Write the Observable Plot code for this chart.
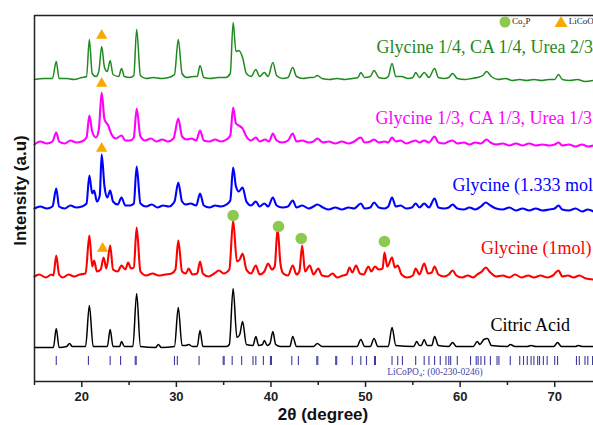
<!DOCTYPE html>
<html>
<head>
<meta charset="utf-8">
<script src="https://cdn.jsdelivr.net/npm/d3@7"></script>
<script src="https://cdn.jsdelivr.net/npm/@observablehq/plot@0.6"></script>
<style>
  html, body { margin: 0; padding: 0; background: #fff; overflow: hidden; }
  #wrap { position: relative; width: 593px; height: 425px; overflow: hidden; }
  #legend { position: absolute; left: 498px; top: 15px; font-family: "Liberation Serif", serif; font-size: 9px; color: #222; white-space: nowrap; }
  #legend span { display: inline-block; vertical-align: middle; }
</style>
</head>
<body>
<div id="wrap">
  <div id="chart"></div>
  <div id="legend">
    <svg width="14" height="14" style="vertical-align:middle"><circle cx="7" cy="7" r="5.5" fill="#8dc94e"></circle></svg><span>Co<sub style="font-size:6px">2</sub>P</span>
    <svg width="16" height="14" style="vertical-align:middle;margin-left:20px"><polygon points="8,1 14.5,12 1.5,12" fill="#f7a900"></polygon></svg><span>LiCoO<sub style="font-size:6px">2</sub></span>
  </div>
</div>
<script>
// ---- data (2θ in degrees, stacked intensity in a.u.) ----
const citricAcid = [[15,34],[17.0,34],[17.3,53],[17.6,34],[18.4,35],[18.7,38],[19.0,35],[20.4,35],[20.8,76],[21.2,35],[22.0,35],[22.7,35],[23.0,52],[23.3,35],[24.0,35],[24.2,40],[24.5,35],[25.4,35],[25.8,88],[26.2,35],[27.8,34],[28.1,37],[28.4,34],[29.8,35],[30.2,74],[30.6,36],[31.0,36],[31.3,37],[31.7,35],[32.2,35],[32.5,51],[32.8,35],[35.3,35],[35.6,37],[36.0,93],[36.4,44],[36.7,47],[37.0,60],[37.4,37],[38.1,36],[38.4,45],[38.7,36],[39.1,37],[39.3,41],[39.6,36],[39.9,38],[40.2,50],[40.5,37],[41.0,35],[42.0,35],[42.3,45],[42.7,35],[44.5,35],[44.9,38],[45.4,35],[49.1,35],[49.5,42],[49.9,35],[50.5,35],[50.9,43],[51.3,35],[52.4,35],[52.8,54],[53.2,36],[55.1,35],[55.4,40],[55.7,36],[55.9,36],[56.2,42],[56.5,36],[57.0,36],[57.3,45],[57.7,36],[58.8,35],[59.2,39],[59.6,35],[61.4,35],[61.8,40],[62.1,37],[62.5,42],[62.9,43],[63.3,36],[65.0,35],[65.3,37],[65.8,35],[67.1,35],[67.5,36],[68.0,35],[69.9,35],[70.3,39],[70.7,35],[72.2,35],[72.5,36],[72.9,35],[74.1,35]];

const glycine1 = [[15,105],[15.5,107],[16.2,104],[16.8,107],[17.0,106],[17.3,126],[17.6,107],[18.0,104],[18.6,107],[19.2,105],[19.8,107],[20.4,108],[20.8,146],[21.1,115],[21.3,121],[21.6,110],[22.0,112],[22.3,124],[22.6,113],[23.0,136],[23.3,112],[23.8,110],[24.2,116],[24.6,112],[24.9,119],[25.2,113],[25.5,114],[25.8,154],[26.2,110],[26.8,106],[27.5,108],[28.1,106],[28.8,107],[29.5,108],[29.9,112],[30.2,141],[30.6,110],[31.0,108],[31.3,113],[31.7,107],[32.2,108],[32.5,120],[32.8,108],[33.4,105],[34.0,108],[34.5,111],[35.0,108],[35.6,112],[36.0,161],[36.4,120],[36.7,122],[37.0,128],[37.4,112],[37.9,108],[38.4,116],[38.8,107],[39.3,110],[39.7,118],[40.1,112],[40.4,115],[40.7,153],[41.0,118],[41.3,108],[41.8,106],[42.3,116],[42.7,107],[43.0,110],[43.3,136],[43.6,110],[44.1,116],[44.5,107],[45.0,113],[45.4,106],[46.0,105],[46.5,108],[47.0,104],[47.6,106],[48.0,107],[48.3,114],[48.6,109],[49.0,116],[49.4,108],[49.8,107],[50.3,115],[50.6,110],[51.0,115],[51.4,112],[51.8,113],[52.0,129],[52.3,115],[52.8,124],[53.1,114],[53.4,116],[53.8,107],[54.4,104],[55.0,106],[55.3,113],[55.7,107],[56.2,118],[56.6,108],[57.0,109],[57.3,115],[57.7,107],[58.3,105],[58.8,107],[59.2,111],[59.6,106],[60.2,104],[60.8,106],[61.4,104],[61.8,107],[62.3,110],[62.7,114],[63.2,109],[63.8,105],[64.5,106],[65.2,104],[65.8,107],[66.5,104],[67.2,106],[67.8,104],[68.5,106],[69.2,104],[69.8,106],[70.4,111],[70.8,105],[71.4,106],[72.0,104],[72.6,106],[73.3,103],[74.1,102]];

const glycine1333 = [[15,173],[15.6,175],[16.3,173],[16.9,175],[17.3,193],[17.6,175],[18.2,173],[18.8,176],[19.4,174],[20.0,175],[20.5,178],[20.8,206],[21.1,188],[21.3,191],[21.6,180],[21.9,186],[22.1,227],[22.4,195],[22.7,184],[23.0,191],[23.3,180],[23.8,177],[24.2,184],[24.6,176],[25.1,176],[25.5,178],[25.8,215],[26.2,178],[26.8,175],[27.4,177],[28.0,174],[28.6,176],[29.2,175],[29.8,180],[30.2,199],[30.6,180],[31.0,177],[31.5,178],[32.1,176],[32.5,188],[32.9,176],[33.5,174],[34.1,176],[34.7,175],[35.3,177],[35.7,181],[36.0,214],[36.3,195],[36.6,190],[37.0,194],[37.4,180],[37.9,176],[38.4,180],[38.8,175],[39.3,178],[39.7,175],[40.2,184],[40.6,176],[41.2,174],[41.8,175],[42.3,181],[42.7,174],[43.3,176],[44.0,173],[44.5,175],[44.9,177],[45.5,174],[46.1,172],[46.8,174],[47.5,172],[48.2,174],[48.8,173],[49.5,178],[49.9,173],[50.5,174],[50.9,179],[51.4,174],[52.0,173],[52.4,175],[52.8,184],[53.2,175],[53.7,176],[54.3,173],[54.9,174],[55.3,178],[55.7,174],[56.2,178],[56.7,174],[57.3,183],[57.7,174],[58.3,173],[58.8,174],[59.2,177],[59.7,173],[60.4,172],[61.0,174],[61.6,172],[62.2,175],[62.7,179],[63.2,176],[63.8,173],[64.5,172],[65.2,174],[65.9,171],[66.6,173],[67.3,171],[68.0,173],[68.7,171],[69.4,172],[70.0,173],[70.4,176],[70.8,172],[71.5,171],[72.2,173],[72.9,170],[73.5,172],[74.1,170]];

const mixThird = [[15,237],[15.6,240],[16.3,238],[16.9,240],[17.3,249],[17.6,240],[18.2,238],[18.8,241],[19.4,239],[20.0,240],[20.5,244],[20.8,266],[21.1,250],[21.5,244],[21.8,252],[22.1,289],[22.4,262],[22.8,256],[23.1,248],[23.6,243],[24.2,246],[24.6,241],[25.1,241],[25.5,244],[25.8,273],[26.2,245],[26.7,241],[27.3,243],[27.9,240],[28.5,242],[29.1,240],[29.7,243],[30.2,263],[30.6,245],[31.1,242],[31.6,243],[32.1,241],[32.5,251],[32.9,241],[33.5,240],[34.1,242],[34.7,240],[35.3,242],[35.7,246],[36.0,274],[36.3,258],[36.6,256],[37.0,253],[37.4,245],[37.9,241],[38.4,244],[38.8,240],[39.4,242],[39.8,240],[40.2,248],[40.6,241],[41.2,239],[41.8,241],[42.3,248],[42.7,240],[43.3,241],[44.0,239],[44.5,240],[44.9,243],[45.5,239],[46.1,240],[46.8,238],[47.5,240],[48.2,238],[48.8,240],[49.5,244],[49.9,239],[50.5,240],[50.9,242],[51.4,239],[52.0,240],[52.4,239],[52.8,244],[53.2,240],[53.7,241],[54.3,238],[54.9,240],[55.3,241],[55.7,239],[56.2,241],[56.7,239],[57.3,245],[57.7,239],[58.3,238],[58.8,240],[59.2,241],[59.7,238],[60.4,239],[61.0,237],[61.6,239],[62.2,238],[62.8,242],[63.2,239],[63.8,237],[64.5,238],[65.2,236],[65.9,238],[66.6,236],[67.3,238],[68.0,236],[68.7,237],[69.4,236],[70.0,237],[70.4,239],[70.8,236],[71.5,237],[72.2,235],[72.9,237],[73.5,235],[74.1,236]];

const mixQuarter = [[15,302],[16.0,303],[16.9,303],[17.3,320],[17.6,303],[18.4,303],[19.2,302],[20.0,304],[20.5,305],[20.8,342],[21.1,308],[21.5,305],[21.8,310],[22.1,335],[22.4,314],[22.7,310],[23.0,321],[23.3,307],[23.9,305],[24.2,313],[24.5,305],[25.1,304],[25.5,306],[25.8,352],[26.2,306],[26.8,303],[27.6,304],[28.4,303],[29.2,304],[29.8,307],[30.2,342],[30.6,308],[31.1,304],[31.8,305],[32.2,305],[32.5,316],[32.9,304],[33.6,303],[34.4,304],[35.2,304],[35.7,308],[36.0,359],[36.3,330],[36.6,331],[37.0,324],[37.4,308],[37.9,305],[38.4,312],[38.8,305],[39.3,309],[39.7,305],[40.2,319],[40.6,306],[41.2,303],[41.8,304],[42.3,314],[42.7,305],[43.4,303],[44.1,304],[44.5,304],[44.9,306],[45.4,303],[46.2,302],[47.0,303],[47.8,302],[48.6,303],[49.2,304],[49.5,309],[49.9,304],[50.5,305],[50.9,311],[51.4,304],[52.0,303],[52.4,305],[52.8,318],[53.2,305],[53.8,305],[54.5,303],[55.0,304],[55.3,309],[55.7,304],[56.2,309],[56.7,304],[57.3,313],[57.7,304],[58.3,303],[58.8,304],[59.2,308],[59.7,303],[60.5,302],[61.2,303],[61.8,304],[62.4,306],[62.8,310],[63.3,305],[64.0,302],[64.8,303],[65.5,301],[66.3,302],[67.0,301],[67.8,302],[68.6,301],[69.4,302],[70.0,302],[70.4,307],[70.8,302],[71.6,301],[72.4,302],[73.2,300],[74.1,301]];

const seriesNames = ["Citric Acid", "Glycine (1mol)", "Glycine (1.333 mol)", "Glycine 1/3, CA 1/3, Urea 1/3", "Glycine 1/4, CA 1/4, Urea 2/3"];
const seriesData = [citricAcid, glycine1, glycine1333, mixThird, mixQuarter];
const seriesColors = ["#000000", "#ff0000", "#0000ff", "#ff00ff", "#1f8a1f"];
const labelX = [63.2, 62.2, 59.2, 51.05, 51.15];
const labelY = [56, 133, 196, 263, 334];

const co2pX = [36.0, 40.8, 43.2, 52.0];
const co2pY = [166, 155, 143, 140];
const licoo2X = [22.2, 22.1, 22.1, 22.1];
const licoo2Y = [133, 233, 298, 346];

const licopo4Peaks = [17.3, 20.7, 23.0, 24.1, 25.65, 25.75, 29.8, 30.1, 32.4, 34.95, 35.05, 35.9, 36.9, 38.1, 38.4, 39.2, 39.95, 40.05, 42.2, 42.9, 44.85, 44.95, 46.85, 46.95, 48.6, 49.5, 50.1, 50.95, 51.05, 52.8, 53.4, 53.9, 55.3, 56.2, 56.7, 57.3, 57.9, 58.5, 58.8, 59.0, 59.7, 61.1, 61.7, 61.9, 62.2, 62.6, 63.2, 63.9, 64.1, 65.3, 66.3, 66.7, 67.1, 67.5, 67.8, 68.2, 68.4, 68.8, 69.2, 70.0, 70.3, 72.3, 72.6, 73.2, 73.5, 74.0];
const xTicks = [20, 30, 40, 50, 60, 70];
const xMinorTicks = [15, 25, 35, 45, 55, 65];

// ---- build ----
const rows = seriesData.flatMap((arr, i) => arr.map(([t, v]) => ({series: seriesNames[i], t, v})));
const labels = seriesNames.map((name, i) => ({name, x: labelX[i], y: labelY[i]}));
const co2p = co2pX.map((x, i) => ({x, y: co2pY[i]}));
const licoo2 = licoo2X.map((x, i) => ({x, y: licoo2Y[i]}));
const noisy = new Set([seriesNames[1], seriesNames[2], seriesNames[3]]);

const chart = Plot.plot({
  width: 593,
  height: 425,
  marginLeft: 34,
  marginRight: 0,
  marginTop: 15,
  marginBottom: 44,
  style: {fontFamily: "Liberation Sans, Arial, sans-serif", background: "#fff", overflow: "hidden"},
  x: {domain: [15, 74.1], axis: null},
  y: {domain: [0, 366], axis: null},
  color: {domain: seriesNames, range: seriesColors},
  marks: [
    Plot.ruleX(licopo4Peaks, {x: d => d, y1: 16, y2: 25, stroke: "#3c3ca0", strokeWidth: 1.1}),
    Plot.text(["LiCoPO\u2084: (00-230-0246)"], {frameAnchor: "bottom", lineAnchor: "middle", dx: 121, dy: -10, fontFamily: "Liberation Serif, serif", fontSize: 9.5, fill: "#4646a6"}),
    Plot.line(rows.filter(d => !noisy.has(d.series)), {x: "t", y: "v", z: "series", stroke: "series", strokeWidth: 1.5, strokeLinejoin: "round", curve: "monotone-x"}),
    Plot.line(rows.filter(d => noisy.has(d.series)), {x: "t", y: "v", z: "series", stroke: "series", strokeWidth: 2.1, strokeLinejoin: "round", curve: "monotone-x"}),
    Plot.text(labels, {x: "x", y: "y", text: "name", fill: "name", textAnchor: "start", fontFamily: "Liberation Serif, Times New Roman, serif", fontSize: 18}),
    Plot.dot(co2p, {x: "x", y: "y", r: 5.8, fill: "#8dc94e", stroke: "none"}),
    Plot.dot(licoo2, {x: "x", y: "y", r: 4.2, symbol: "triangle", fill: "#f7a900", stroke: "none"}),
    Plot.ruleX([15], {stroke: "#222", strokeWidth: 1.5}),
    Plot.ruleY([0], {stroke: "#222", strokeWidth: 1.5}),
    Plot.ruleY([366], {stroke: "#222", strokeWidth: 1.5}),
    Plot.axisX({ticks: xTicks, tickSize: 6, tickPadding: 4, tickFormat: d => String(d), fontSize: 13, fontWeight: "bold", stroke: "#222", strokeWidth: 1.5, color: "#222", label: null}),
    Plot.axisX({ticks: xMinorTicks, tickSize: 4, tickFormat: () => "", stroke: "#222", strokeWidth: 1.5, label: null}),
    Plot.text(["2\u03b8 (degree)"], {frameAnchor: "bottom", lineAnchor: "middle", textAnchor: "middle", dx: 9, dy: 33, fontSize: 17, fontWeight: "bold", fill: "#111"}),
    Plot.text(["Intensity (a.u)"], {frameAnchor: "left", textAnchor: "middle", lineAnchor: "middle", rotate: -90, dx: -14, dy: -8, fontSize: 17, fontWeight: "bold", fill: "#111"})
  ]
});
document.getElementById("chart").appendChild(chart);
</script>
</body>
</html>
